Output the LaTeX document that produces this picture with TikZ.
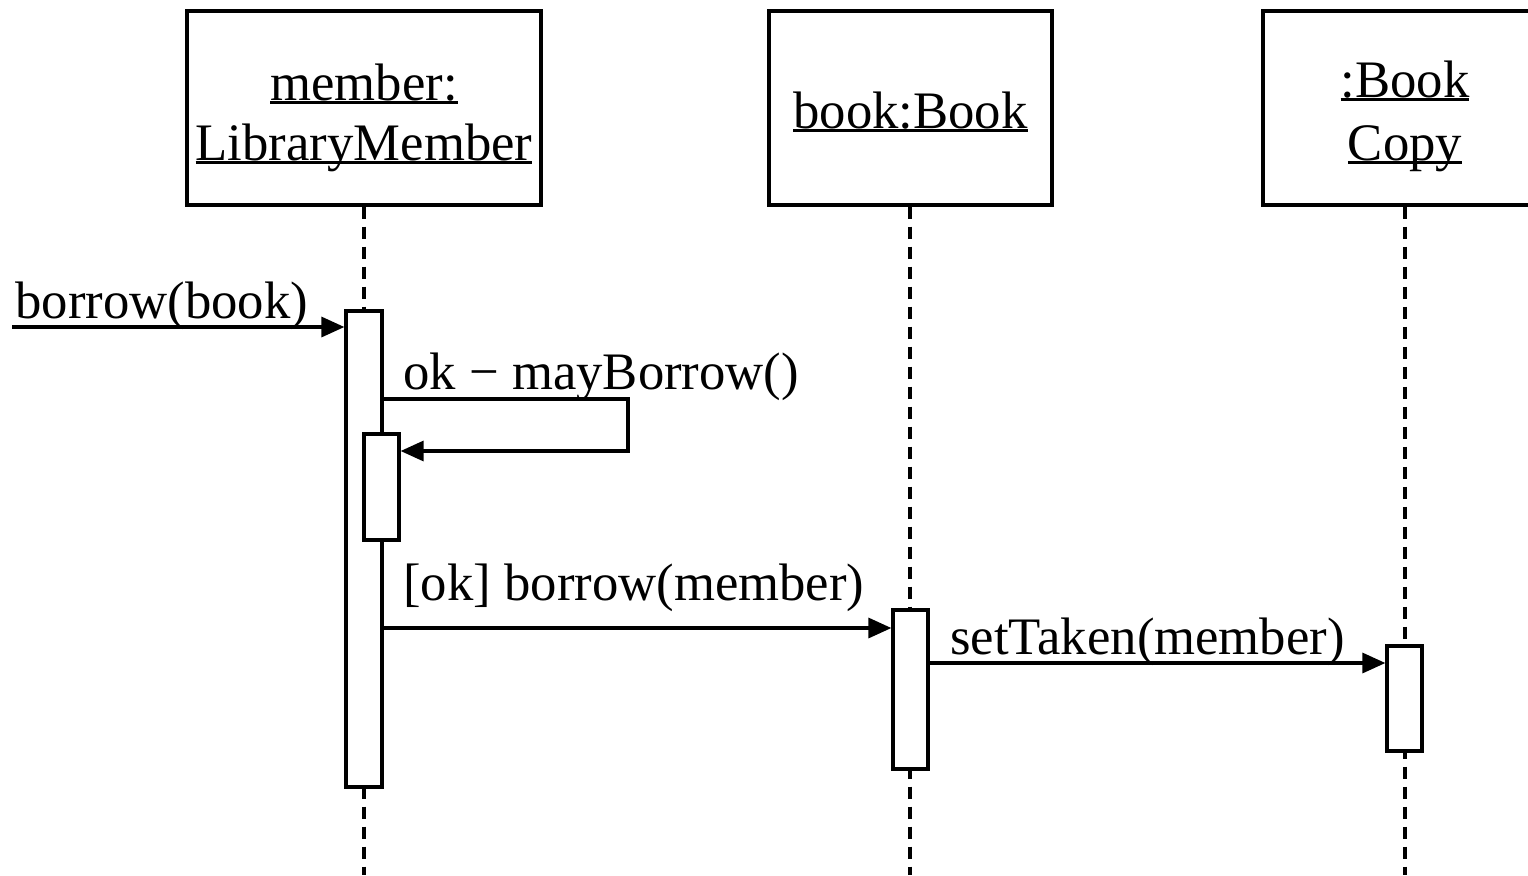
\documentclass[tikz,border=0pt]{standalone}
\usepackage{fontspec}
\setmainfont{Liberation Serif}
\usetikzlibrary{arrows.meta}
% underlined object name, rule cuts through descenders as in UML tools
\newsavebox\objnamebox
\newcommand\objname[1]{\sbox\objnamebox{#1}\rlap{\rule[-2.2pt]{\wd\objnamebox}{1.5pt}}\usebox\objnamebox}
\tikzset{
  lbl/.style={inner sep=0pt, font=\fontsize{26.35}{31.6}\selectfont},
  objbox/.style={draw, line width=1.6pt, fill=white, inner sep=0pt, minimum height=97pt},
  actbox/.style={draw, line width=1.6pt, fill=white, inner sep=0pt, minimum width=17.5pt},
  life/.style={line width=1.6pt, dash pattern=on 6pt off 4pt},
  msg/.style={line width=1.6pt, -{Triangle[length=11.5pt,width=10pt]}},
}
\begin{document}
\begin{tikzpicture}[x=0.5pt,y=-0.5pt]
\useasboundingbox (0,0) rectangle (1528,875);

% lifeline ends
\coordinate (end1) at (364,875);
\coordinate (end2) at (910,875);
\coordinate (end3) at (1405,875);

% object boxes
\node[objbox, minimum width=177pt] (obj1) at (364,108) {};
\node[objbox, minimum width=141.5pt] (obj2) at (910.5,108) {};
\node[objbox, minimum width=142pt] (obj3) at (1405,108) {};

% lifelines
\draw[life] (obj1.south) -- (end1);
\draw[life] (obj2.south -| end2) -- (end2);
\draw[life] (obj3.south) -- (end3);

% object names
\node[lbl, anchor=base] (n1a) at (364,100) {\objname{member:}};
\node[lbl, anchor=base] (n1b) at (364,160) {\objname{LibraryMember}};
\node[lbl, anchor=base] (n2) at (910.5,128) {\objname{book:Book}};
\node[lbl, anchor=base] (n3a) at (1405,97) {\objname{:Book}};
\node[lbl, anchor=base] (n3b) at (1405,160) {\objname{Copy}};

% activations
\node[actbox, minimum width=18pt, minimum height=238pt] (act1) at (364,549) {};
\node[actbox, minimum height=53pt] (act1b) at (381.5,487) {};
\node[actbox, minimum height=79.5pt] (act2) at (910.5,689.5) {};
\node[actbox, minimum height=52.5pt] (act3) at (1404.5,698.5) {};

% found message
\coordinate (caller) at (12,327);
\draw[msg] (caller) -- (caller -| act1.west);
\node[lbl, anchor=base west] (m1) at (15,318) {borrow(book)};

% self call
\coordinate (turn1) at (628,399);
\coordinate (turn2) at (628,451);
\draw[msg, line join=miter] (turn1 -| act1.east) -- (turn1) -- (turn2) -- (turn2 -| act1b.east);
\node[lbl, anchor=base west] (m2) at (403,389) {ok − mayBorrow()};

% call on book
\coordinate (call2) at (0,628);
\draw[msg] (call2 -| act1.east) -- (call2 -| act2.west);
\node[lbl, anchor=base west] (m3) at (403,600) {[ok] borrow(member)};

% call on copy
\coordinate (call3) at (0,663);
\draw[msg] (call3 -| act2.east) -- (call3 -| act3.west);
\node[lbl, anchor=base west] (m4) at (950,654) {setTaken(member)};
\end{tikzpicture}
\end{document}
